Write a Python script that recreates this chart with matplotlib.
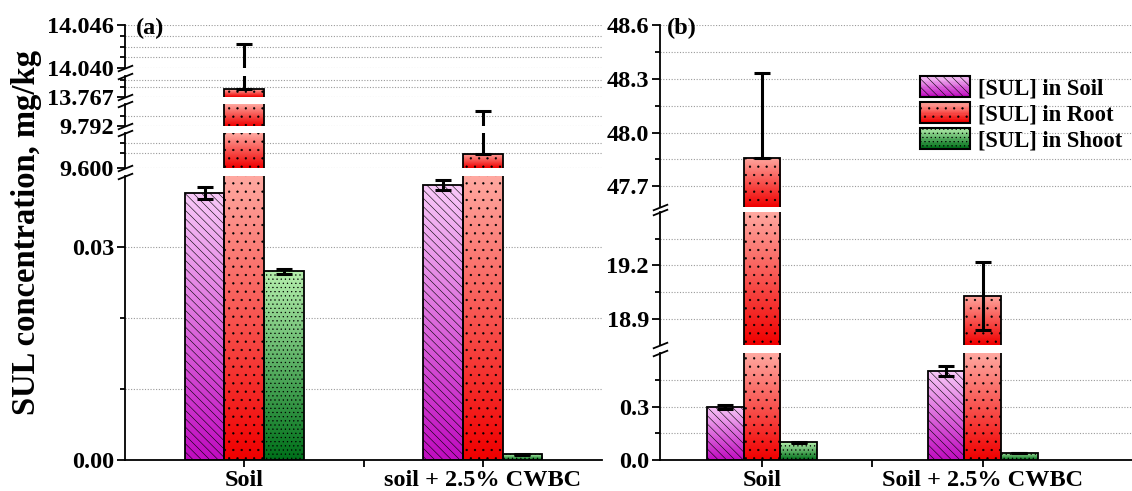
import numpy as np
import matplotlib
matplotlib.use("Agg")
import matplotlib.pyplot as plt
from matplotlib.patches import Rectangle
from matplotlib.legend_handler import HandlerBase
from matplotlib.colors import to_rgb

plt.rcParams["font.family"] = ["Liberation Serif", "DejaVu Serif"]
plt.rcParams["font.weight"] = "bold"
plt.rcParams["hatch.linewidth"] = 0.4

# data
series = ["[SUL] in Soil", "[SUL] in Root", "[SUL] in Shoot"]
groups_a = ["Soil", "soil + 2.5% CWBC"]
groups_b = ["Soil", "Soil + 2.5% CWBC"]

# panel (a): values, lower and upper errors
a_soil = [0.0376, 0.0387]
a_soil_err = [0.0008, 0.0007]
a_root = [13.7681, 9.640]
a_root_err_lo = [0.0, 0.0]
a_root_err_hi = [0.2753, 0.195]
a_shoot = [0.02656, 0.0008]
a_shoot_err = [0.0004, 0.0001]

# panel (b)
b_soil = [0.30, 0.50]
b_soil_err = [0.012, 0.028]
b_root = [47.86, 19.03]
b_root_err_lo = [0.0, 0.19]
b_root_err_hi = [0.47, 0.19]
b_shoot = [0.10, 0.04]
b_shoot_err = [0.004, 0.002]

# axis segments: (ylim, pixel top/bottom, major ticks, labels, minor ticks)
segs_a = [
    ((14.040, 14.04601), (25, 68), [14.040, 14.046], ["14.040", "14.046"], [14.0415, 14.043, 14.0445]),
    ((13.767, 13.7699), (76, 97), [13.767], ["13.767"], [13.7684, 13.7693]),
    ((9.792, 9.855), (104, 126), [9.792], ["9.792"], [9.82]),
    ((9.600, 9.700), (133, 168), [9.600], ["9.600"], [9.643, 9.672]),
    ((-0.00001, 0.040), (176, 460), [0.0, 0.03], ["0.00", "0.03"], [0.01, 0.02]),
]
segs_b = [
    ((47.584, 48.601), (25, 207), [47.7, 48.0, 48.3, 48.6], ["47.7", "48.0", "48.3", "48.6"], [47.85, 48.15, 48.45]),
    ((18.754, 19.50), (212, 345), [18.9, 19.2], ["18.9", "19.2"], [19.05, 19.35]),
    ((-0.0001, 0.604), (353, 460), [0.0, 0.3], ["0.0", "0.3"], [0.15, 0.45]),
]

top_colors = ["#f8c8f8", "#ffa8a0", "#b4eeac"]
bottom_colors = ["#c00cc0", "#f00000", "#00701a"]
hatches = ["\\\\\\\\", "..", "...."]

W, H = 1132, 491
fig = plt.figure(figsize=(W / 100, H / 100), dpi=100)

grads = [np.linspace(to_rgb(t), to_rgb(b), 64)[:, None, :] for t, b in zip(top_colors, bottom_colors)]
bar_w = 0.166


def draw_series(ax, k, values, lows, highs, ylim):
    xs = np.arange(len(values)) + (k - 1) * bar_w
    rects = ax.bar(xs, values, bar_w, facecolor="none", edgecolor="k", lw=1.3,
                   hatch=hatches[k], zorder=3)
    for rect, v in zip(rects, values):
        lo = max(ylim[0], 0)
        hi = min(v, ylim[1])
        if hi <= lo:
            continue
        im = ax.imshow(grads[k], extent=[rect.get_x(), rect.get_x() + bar_w, lo, hi],
                       aspect="auto", origin="upper", zorder=2, interpolation="bilinear")
        im.set_clip_path(rect)
    ax.errorbar(xs, values, yerr=[lows, highs], fmt="none", ecolor="k",
                elinewidth=2.2, capsize=6, capthick=2.2, zorder=4)


def draw_panel(x0, x1, xlim, segs, data, groups):
    axes = []
    for i, (ylim, (yt, yb), majors, labels, minors) in enumerate(segs):
        ax = fig.add_axes([x0 / W, 1 - yb / H, (x1 - x0) / W, (yb - yt) / H])
        for k, (vals, lo, hi) in enumerate(data):
            draw_series(ax, k, vals, lo, hi, ylim)
        ax.set_xlim(*xlim)
        ax.set_ylim(*ylim)
        ax.set_yticks(majors)
        ax.set_yticklabels(labels)
        ax.set_yticks(minors, minor=True)
        for y in majors + minors:
            ax.axhline(y, color="#9a9a9a", lw=0.8, ls=(0, (1, 1.5)), zorder=1)
        for s in ["top", "right", "bottom"]:
            ax.spines[s].set_visible(False)
        ax.spines["left"].set_linewidth(1.3)
        ax.tick_params(axis="y", which="major", direction="out", length=6, width=1.3, labelsize=17.5, pad=2)
        ax.tick_params(axis="y", which="minor", direction="out", length=3.5, width=1.3)
        ax.set_facecolor("none")
        last = i == len(segs) - 1
        if last:
            ax.spines["bottom"].set_visible(True)
            ax.spines["bottom"].set_linewidth(1.3)
            ax.set_xticks(range(len(groups)))
            ax.set_xticklabels(groups)
            ax.set_xticks([0.5], minor=True)
            ax.tick_params(axis="x", which="major", direction="out", length=5, width=1.3, labelsize=17.5, pad=2)
            ax.tick_params(axis="x", which="minor", direction="out", length=5, width=1.3)
        else:
            ax.tick_params(axis="x", which="both", bottom=False, labelbottom=False)
        axes.append(ax)
    brk = dict(marker=[(-1, -0.4), (1, 0.4)], markersize=11, linestyle="none",
               color="k", mec="k", mew=1.3, clip_on=False, zorder=6)
    for up, low in zip(axes[:-1], axes[1:]):
        up.plot([0], [0], transform=up.transAxes, **brk)
        low.plot([0], [1], transform=low.transAxes, **brk)
    return axes


data_a = [
    (a_soil, a_soil_err, a_soil_err),
    (a_root, a_root_err_lo, a_root_err_hi),
    (a_shoot, a_shoot_err, a_shoot_err),
]
data_b = [
    (b_soil, b_soil_err, b_soil_err),
    (b_root, b_root_err_lo, b_root_err_hi),
    (b_shoot, b_shoot_err, b_shoot_err),
]

draw_panel(125, 602, (-0.5, 1.5), segs_a, data_a, groups_a)
draw_panel(660, 1132, (-0.462, 1.676), segs_b, data_b, groups_b)

fig.text(136 / W, 1 - 28 / H, "(a)", fontsize=17.5, va="center", ha="left")
fig.text(667 / W, 1 - 28 / H, "(b)", fontsize=17.5, va="center", ha="left")
fig.text(27 / W, 1 - 232 / H, "SUL concentration, mg/kg", rotation=90,
         fontsize=23.5, va="center", ha="center")


class Swatch:
    def __init__(self, k):
        self.k = k


class GradientHandler(HandlerBase):
    def create_artists(self, legend, orig_handle, xdescent, ydescent, width, height, fontsize, trans):
        k = orig_handle.k
        arts = []
        n = 16
        c0 = np.array(to_rgb(top_colors[k]))
        c1 = np.array(to_rgb(bottom_colors[k]))
        for i in range(n):
            c = c0 + (c1 - c0) * i / (n - 1)
            arts.append(Rectangle((-xdescent, -ydescent + height * (1 - (i + 1) / n)), width,
                                  height / n + 0.3, facecolor=c, edgecolor="none", transform=trans))
        arts.append(Rectangle((-xdescent, -ydescent), width, height, facecolor="none",
                              edgecolor="k", hatch=hatches[k], lw=1.5, transform=trans))
        return arts


fig.legend([Swatch(k) for k in range(3)], series, handler_map={Swatch: GradientHandler()},
           loc="upper left", bbox_to_anchor=(920 / W, 1 - 76 / H), frameon=False,
           fontsize=16.3, handlelength=2.2, handleheight=1.06, labelspacing=0.12,
           handletextpad=0.35, borderpad=0, borderaxespad=0)

fig.savefig("out.png", dpi=100)
